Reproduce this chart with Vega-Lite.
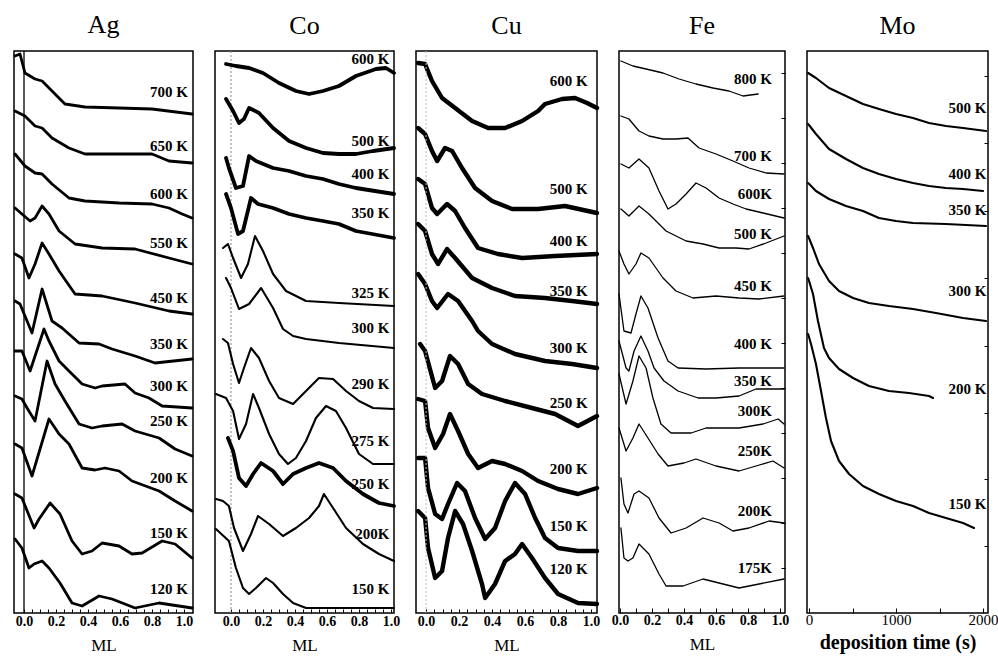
{
  "$schema": "https://vega.github.io/schema/vega-lite/v6.json",
  "background": "white",
  "padding": {"left": 12, "top": 11, "right": 5, "bottom": 5},
  "spacing": 22,
  "bounds": "flush",
  "config": {
    "view": {"stroke": "black", "strokeWidth": 1.5},
    "font": "Liberation Serif",
    "title": {"font": "Liberation Serif", "fontSize": 26, "fontWeight": "normal", "baseline": "alphabetic", "offset": 12, "color": "black"},
    "axis": {"grid": false, "domain": false, "labelFont": "Liberation Serif", "titleFont": "Liberation Serif", "tickColor": "black", "labelColor": "black", "titleColor": "black", "labelOverlap": false, "labelFlush": false, "tickCount": 60},
    "text": {"font": "Liberation Serif", "fontWeight": "bold", "fontSize": 15, "align": "right", "baseline": "middle", "color": "black"},
    "line": {"color": "black", "strokeJoin": "round", "strokeCap": "round"}
  },
  "hconcat": [
    {
      "title": "Ag",
      "width": 179, "height": 562,
      "data": {"values": [
        {"T":"700 K","x":-0.056,"y":557},{"T":"700 K","x":-0.025,"y":559},{"T":"700 K","x":0.006,"y":540},{"T":"700 K","x":0.069,"y":534},{"T":"700 K","x":0.113,"y":532},{"T":"700 K","x":0.175,"y":522},{"T":"700 K","x":0.256,"y":509},{"T":"700 K","x":0.381,"y":506},{"T":"700 K","x":0.594,"y":505},{"T":"700 K","x":0.8,"y":504},{"T":"700 K","x":1.05,"y":499},
        {"T":"650 K","x":-0.056,"y":502},{"T":"650 K","x":0.006,"y":497},{"T":"650 K","x":0.069,"y":487},{"T":"650 K","x":0.113,"y":485},{"T":"650 K","x":0.175,"y":475},{"T":"650 K","x":0.281,"y":465},{"T":"650 K","x":0.381,"y":459},{"T":"650 K","x":0.594,"y":459},{"T":"650 K","x":0.8,"y":459},{"T":"650 K","x":0.906,"y":452},{"T":"650 K","x":1.05,"y":450},
        {"T":"600 K","x":-0.056,"y":459},{"T":"600 K","x":0.006,"y":447},{"T":"600 K","x":0.069,"y":440},{"T":"600 K","x":0.113,"y":439},{"T":"600 K","x":0.175,"y":429},{"T":"600 K","x":0.281,"y":415},{"T":"600 K","x":0.381,"y":412},{"T":"600 K","x":0.594,"y":410},{"T":"600 K","x":0.8,"y":409},{"T":"600 K","x":0.906,"y":405},{"T":"600 K","x":0.988,"y":399},{"T":"600 K","x":1.05,"y":395},
        {"T":"550 K","x":-0.056,"y":405},{"T":"550 K","x":-0.013,"y":399},{"T":"550 K","x":0.038,"y":392},{"T":"550 K","x":0.069,"y":395},{"T":"550 K","x":0.113,"y":407},{"T":"550 K","x":0.156,"y":399},{"T":"550 K","x":0.219,"y":382},{"T":"550 K","x":0.319,"y":369},{"T":"550 K","x":0.488,"y":365},{"T":"550 K","x":0.694,"y":364},{"T":"550 K","x":0.906,"y":355},{"T":"550 K","x":1.05,"y":349},
        {"T":"450 K","x":-0.056,"y":359},{"T":"450 K","x":-0.013,"y":355},{"T":"450 K","x":0.031,"y":335},{"T":"450 K","x":0.069,"y":349},{"T":"450 K","x":0.113,"y":370},{"T":"450 K","x":0.156,"y":359},{"T":"450 K","x":0.219,"y":342},{"T":"450 K","x":0.319,"y":319},{"T":"450 K","x":0.488,"y":317},{"T":"450 K","x":0.694,"y":310},{"T":"450 K","x":0.906,"y":302},{"T":"450 K","x":1.05,"y":299},
        {"T":"350 K","x":-0.056,"y":312},{"T":"350 K","x":-0.025,"y":309},{"T":"350 K","x":0.05,"y":280},{"T":"350 K","x":0.113,"y":324},{"T":"350 K","x":0.175,"y":292},{"T":"350 K","x":0.238,"y":285},{"T":"350 K","x":0.344,"y":270},{"T":"350 K","x":0.469,"y":269},{"T":"350 K","x":0.55,"y":264},{"T":"350 K","x":0.694,"y":257},{"T":"350 K","x":0.819,"y":250},{"T":"350 K","x":1.05,"y":254},
        {"T":"300 K","x":-0.056,"y":262},{"T":"300 K","x":-0.013,"y":262},{"T":"300 K","x":0.038,"y":242},{"T":"300 K","x":0.125,"y":284},{"T":"300 K","x":0.156,"y":272},{"T":"300 K","x":0.219,"y":252},{"T":"300 K","x":0.281,"y":242},{"T":"300 K","x":0.363,"y":229},{"T":"300 K","x":0.444,"y":225},{"T":"300 K","x":0.488,"y":227},{"T":"300 K","x":0.631,"y":229},{"T":"300 K","x":0.694,"y":220},{"T":"300 K","x":0.781,"y":215},{"T":"300 K","x":0.863,"y":207},{"T":"300 K","x":1.05,"y":205},
        {"T":"250 K","x":-0.056,"y":217},{"T":"250 K","x":-0.013,"y":214},{"T":"250 K","x":0.019,"y":205},{"T":"250 K","x":0.069,"y":192},{"T":"250 K","x":0.144,"y":252},{"T":"250 K","x":0.194,"y":229},{"T":"250 K","x":0.256,"y":212},{"T":"250 K","x":0.344,"y":189},{"T":"250 K","x":0.425,"y":185},{"T":"250 K","x":0.488,"y":187},{"T":"250 K","x":0.613,"y":189},{"T":"250 K","x":0.694,"y":182},{"T":"250 K","x":0.844,"y":175},{"T":"250 K","x":0.944,"y":164},{"T":"250 K","x":1.05,"y":157},
        {"T":"200 K","x":-0.056,"y":169},{"T":"200 K","x":-0.013,"y":165},{"T":"200 K","x":0.05,"y":137},{"T":"200 K","x":0.156,"y":194},{"T":"200 K","x":0.219,"y":179},{"T":"200 K","x":0.281,"y":169},{"T":"200 K","x":0.363,"y":145},{"T":"200 K","x":0.444,"y":143},{"T":"200 K","x":0.506,"y":145},{"T":"200 K","x":0.594,"y":142},{"T":"200 K","x":0.675,"y":132},{"T":"200 K","x":0.844,"y":122},{"T":"200 K","x":0.944,"y":112},{"T":"200 K","x":1.05,"y":102},
        {"T":"150 K","x":-0.056,"y":119},{"T":"150 K","x":-0.013,"y":115},{"T":"150 K","x":0.063,"y":85},{"T":"150 K","x":0.094,"y":94},{"T":"150 K","x":0.163,"y":110},{"T":"150 K","x":0.225,"y":99},{"T":"150 K","x":0.3,"y":72},{"T":"150 K","x":0.363,"y":59},{"T":"150 K","x":0.425,"y":62},{"T":"150 K","x":0.488,"y":70},{"T":"150 K","x":0.594,"y":67},{"T":"150 K","x":0.675,"y":59},{"T":"150 K","x":0.738,"y":60},{"T":"150 K","x":0.863,"y":72},{"T":"150 K","x":0.944,"y":69},{"T":"150 K","x":1.05,"y":55},
        {"T":"120 K","x":-0.056,"y":74},{"T":"120 K","x":-0.013,"y":65},{"T":"120 K","x":0.031,"y":45},{"T":"120 K","x":0.063,"y":49},{"T":"120 K","x":0.113,"y":52},{"T":"120 K","x":0.156,"y":45},{"T":"120 K","x":0.225,"y":30},{"T":"120 K","x":0.3,"y":10},{"T":"120 K","x":0.363,"y":7},{"T":"120 K","x":0.469,"y":17},{"T":"120 K","x":0.55,"y":14},{"T":"120 K","x":0.694,"y":5},{"T":"120 K","x":0.844,"y":10},{"T":"120 K","x":1.05,"y":5}
      ]},
      "layer": [
        {
          "mark": {"type": "line", "strokeWidth": 2.8},
          "encoding": {
            "x": {"field": "x", "type": "quantitative", "scale": {"domain": [-0.0625, 1.056], "nice": false, "zero": false},
                  "axis": {"values": [0,0.05,0.1,0.15,0.2,0.25,0.3,0.35,0.4,0.45,0.5,0.55,0.6,0.65,0.7,0.75,0.8,0.85,0.9,0.95,1.0], "tickCount": 60, "labelExpr": "round(datum.value*20)%4==0 ? format(datum.value,'.1f') : ''", "labelOverlap": false, "tickSize": -4, "labelFontWeight": "bold", "labelFontSize": 14, "labelPadding": 5, "title": "ML", "titleFontSize": 17, "titleFontWeight": "normal", "titlePadding": 9}},
            "y": {"field": "y", "type": "quantitative", "scale": {"domain": [0, 562], "nice": false, "zero": false}, "axis": null},
            "detail": {"field": "T"}
          }
        },
        {
          "data": {"values": [{"x": 0}]},
          "mark": {"type": "rule", "color": "black", "strokeWidth": 1.3},
          "encoding": {"x": {"field": "x", "type": "quantitative"}}
        },
        {
          "data": {"values": [
            {"T":"700 K","x":1.025,"y":521},{"T":"650 K","x":1.025,"y":467},{"T":"600 K","x":1.025,"y":419},{"T":"550 K","x":1.025,"y":370},{"T":"450 K","x":1.025,"y":315},{"T":"350 K","x":1.025,"y":269},{"T":"300 K","x":1.025,"y":227},{"T":"250 K","x":1.025,"y":192},{"T":"200 K","x":1.025,"y":135},{"T":"150 K","x":1.025,"y":80},{"T":"120 K","x":1.025,"y":24}
          ]},
          "mark": {"type": "text"},
          "encoding": {"x": {"field": "x", "type": "quantitative"}, "y": {"field": "y", "type": "quantitative"}, "text": {"field": "T"}}
        }
      ]
    },
    {
      "title": "Co",
      "width": 179, "height": 562,
      "data": {"values": [
        {"T":"600 K","x":-0.031,"y":549},{"T":"600 K","x":0.031,"y":547},{"T":"600 K","x":0.113,"y":545},{"T":"600 K","x":0.2,"y":540},{"T":"600 K","x":0.3,"y":530},{"T":"600 K","x":0.406,"y":522},{"T":"600 K","x":0.488,"y":519},{"T":"600 K","x":0.575,"y":522},{"T":"600 K","x":0.675,"y":527},{"T":"600 K","x":0.781,"y":537},{"T":"600 K","x":0.906,"y":544},{"T":"600 K","x":0.969,"y":545},{"T":"600 K","x":1.019,"y":540},
        {"T":"500 K","x":-0.031,"y":514},{"T":"500 K","x":0.013,"y":502},{"T":"500 K","x":0.05,"y":490},{"T":"500 K","x":0.081,"y":494},{"T":"500 K","x":0.113,"y":505},{"T":"500 K","x":0.175,"y":500},{"T":"500 K","x":0.263,"y":485},{"T":"500 K","x":0.363,"y":472},{"T":"500 K","x":0.469,"y":465},{"T":"500 K","x":0.575,"y":460},{"T":"500 K","x":0.675,"y":459},{"T":"500 K","x":0.781,"y":459},{"T":"500 K","x":0.888,"y":462},{"T":"500 K","x":1.019,"y":465},
        {"T":"400 K","x":-0.031,"y":455},{"T":"400 K","x":-0.013,"y":445},{"T":"400 K","x":0.031,"y":425},{"T":"400 K","x":0.075,"y":427},{"T":"400 K","x":0.113,"y":457},{"T":"400 K","x":0.156,"y":452},{"T":"400 K","x":0.263,"y":445},{"T":"400 K","x":0.363,"y":442},{"T":"400 K","x":0.469,"y":437},{"T":"400 K","x":0.575,"y":434},{"T":"400 K","x":0.675,"y":429},{"T":"400 K","x":0.781,"y":425},{"T":"400 K","x":1.019,"y":419},
        {"T":"350 K","x":-0.031,"y":419},{"T":"350 K","x":0,"y":405},{"T":"350 K","x":0.044,"y":379},{"T":"350 K","x":0.075,"y":382},{"T":"350 K","x":0.125,"y":415},{"T":"350 K","x":0.169,"y":409},{"T":"350 K","x":0.263,"y":405},{"T":"350 K","x":0.363,"y":399},{"T":"350 K","x":0.469,"y":395},{"T":"350 K","x":0.575,"y":392},{"T":"350 K","x":0.675,"y":389},{"T":"350 K","x":0.781,"y":382},{"T":"350 K","x":1.019,"y":375},
        {"T":"325 K","x":-0.05,"y":365},{"T":"325 K","x":-0.019,"y":369},{"T":"325 K","x":0.013,"y":355},{"T":"325 K","x":0.063,"y":335},{"T":"325 K","x":0.106,"y":349},{"T":"325 K","x":0.15,"y":377},{"T":"325 K","x":0.2,"y":362},{"T":"325 K","x":0.263,"y":339},{"T":"325 K","x":0.344,"y":322},{"T":"325 K","x":0.469,"y":312},{"T":"325 K","x":0.675,"y":310},{"T":"325 K","x":1.019,"y":307},
        {"T":"300 K","x":-0.031,"y":335},{"T":"300 K","x":0,"y":325},{"T":"300 K","x":0.05,"y":304},{"T":"300 K","x":0.113,"y":309},{"T":"300 K","x":0.188,"y":325},{"T":"300 K","x":0.263,"y":305},{"T":"300 K","x":0.325,"y":284},{"T":"300 K","x":0.388,"y":277},{"T":"300 K","x":0.469,"y":274},{"T":"300 K","x":0.675,"y":270},{"T":"300 K","x":1.019,"y":265},
        {"T":"290 K","x":-0.05,"y":274},{"T":"290 K","x":-0.019,"y":270},{"T":"290 K","x":0.013,"y":249},{"T":"290 K","x":0.05,"y":230},{"T":"290 K","x":0.081,"y":245},{"T":"290 K","x":0.125,"y":265},{"T":"290 K","x":0.175,"y":255},{"T":"290 K","x":0.238,"y":232},{"T":"290 K","x":0.3,"y":215},{"T":"290 K","x":0.388,"y":209},{"T":"290 K","x":0.469,"y":222},{"T":"290 K","x":0.55,"y":235},{"T":"290 K","x":0.638,"y":234},{"T":"290 K","x":0.719,"y":222},{"T":"290 K","x":0.8,"y":212},{"T":"290 K","x":0.888,"y":205},{"T":"290 K","x":1.019,"y":204},
        {"T":"275 K","x":-0.094,"y":219},{"T":"275 K","x":-0.031,"y":215},{"T":"275 K","x":0.013,"y":202},{"T":"275 K","x":0.05,"y":174},{"T":"275 K","x":0.094,"y":189},{"T":"275 K","x":0.138,"y":219},{"T":"275 K","x":0.175,"y":205},{"T":"275 K","x":0.238,"y":179},{"T":"275 K","x":0.3,"y":159},{"T":"275 K","x":0.356,"y":149},{"T":"275 K","x":0.406,"y":155},{"T":"275 K","x":0.469,"y":172},{"T":"275 K","x":0.531,"y":195},{"T":"275 K","x":0.594,"y":207},{"T":"275 K","x":0.656,"y":202},{"T":"275 K","x":0.719,"y":185},{"T":"275 K","x":0.8,"y":159},{"T":"275 K","x":0.888,"y":149},{"T":"275 K","x":1.019,"y":149},
        {"T":"250 K","x":-0.019,"y":175},{"T":"250 K","x":0.013,"y":162},{"T":"250 K","x":0.05,"y":135},{"T":"250 K","x":0.094,"y":127},{"T":"250 K","x":0.138,"y":139},{"T":"250 K","x":0.188,"y":150},{"T":"250 K","x":0.263,"y":142},{"T":"250 K","x":0.325,"y":129},{"T":"250 K","x":0.388,"y":139},{"T":"250 K","x":0.469,"y":145},{"T":"250 K","x":0.55,"y":150},{"T":"250 K","x":0.638,"y":145},{"T":"250 K","x":0.719,"y":132},{"T":"250 K","x":0.825,"y":119},{"T":"250 K","x":0.925,"y":110},{"T":"250 K","x":1.019,"y":107},
        {"T":"200K","x":-0.094,"y":114},{"T":"200K","x":-0.05,"y":112},{"T":"200K","x":-0.013,"y":107},{"T":"200K","x":0.019,"y":85},{"T":"200K","x":0.075,"y":62},{"T":"200K","x":0.125,"y":79},{"T":"200K","x":0.169,"y":97},{"T":"200K","x":0.238,"y":89},{"T":"200K","x":0.325,"y":77},{"T":"200K","x":0.406,"y":85},{"T":"200K","x":0.488,"y":95},{"T":"200K","x":0.55,"y":107},{"T":"200K","x":0.581,"y":119},{"T":"200K","x":0.638,"y":105},{"T":"200K","x":0.719,"y":85},{"T":"200K","x":0.825,"y":69},{"T":"200K","x":0.925,"y":59},{"T":"200K","x":1.019,"y":52},
        {"T":"150 K","x":-0.094,"y":84},{"T":"150 K","x":-0.013,"y":72},{"T":"150 K","x":0.031,"y":45},{"T":"150 K","x":0.075,"y":25},{"T":"150 K","x":0.113,"y":19},{"T":"150 K","x":0.156,"y":25},{"T":"150 K","x":0.219,"y":35},{"T":"150 K","x":0.263,"y":30},{"T":"150 K","x":0.325,"y":19},{"T":"150 K","x":0.388,"y":10},{"T":"150 K","x":0.469,"y":5},{"T":"150 K","x":0.675,"y":5},{"T":"150 K","x":1.019,"y":5}
      ]},
      "layer": [
        {
          "data": {"values": [{"x": 0}]},
          "mark": {"type": "rule", "color": "#888888", "strokeWidth": 1, "strokeDash": [2, 2]},
          "encoding": {
            "x": {"field": "x", "type": "quantitative", "scale": {"domain": [-0.1, 1.019], "nice": false, "zero": false},
                  "axis": {"values": [0,0.05,0.1,0.15,0.2,0.25,0.3,0.35,0.4,0.45,0.5,0.55,0.6,0.65,0.7,0.75,0.8,0.85,0.9,0.95,1.0], "tickCount": 60, "labelExpr": "round(datum.value*20)%4==0 ? format(datum.value,'.1f') : ''", "labelOverlap": false, "tickSize": -4, "labelFontWeight": "bold", "labelFontSize": 14, "labelPadding": 5, "title": "ML", "titleFontSize": 17, "titleFontWeight": "normal", "titlePadding": 9}}
          }
        },
        {
          "transform": [{"filter": {"field": "T", "oneOf": ["600 K", "500 K", "400 K", "350 K", "250 K"]}}],
          "mark": {"type": "line", "strokeWidth": 3.8},
          "encoding": {
            "x": {"field": "x", "type": "quantitative"},
            "y": {"field": "y", "type": "quantitative", "scale": {"domain": [0, 562], "nice": false, "zero": false}, "axis": null},
            "detail": {"field": "T"}
          }
        },
        {
          "transform": [{"filter": {"not": {"field": "T", "oneOf": ["600 K", "500 K", "400 K", "350 K", "250 K"]}}}],
          "mark": {"type": "line", "strokeWidth": 2.1},
          "encoding": {
            "x": {"field": "x", "type": "quantitative"},
            "y": {"field": "y", "type": "quantitative"},
            "detail": {"field": "T"}
          }
        },
        {
          "data": {"values": [
            {"T":"600 K","x":0.99,"y":554},{"T":"500 K","x":0.99,"y":472},{"T":"400 K","x":0.99,"y":439},{"T":"350 K","x":0.99,"y":400},{"T":"325 K","x":0.99,"y":320},{"T":"300 K","x":0.99,"y":285},{"T":"290 K","x":0.99,"y":229},{"T":"275 K","x":0.99,"y":172},{"T":"250 K","x":0.99,"y":129},{"T":"200K","x":0.99,"y":79},{"T":"150 K","x":0.99,"y":24}
          ]},
          "mark": {"type": "text"},
          "encoding": {"x": {"field": "x", "type": "quantitative"}, "y": {"field": "y", "type": "quantitative"}, "text": {"field": "T"}}
        }
      ]
    },
    {
      "title": "Cu",
      "width": 181, "height": 562,
      "data": {"values": [
        {"T":"600 K","x":-0.048,"y":550},{"T":"600 K","x":-0.006,"y":549},{"T":"600 K","x":0.036,"y":532},{"T":"600 K","x":0.097,"y":515},{"T":"600 K","x":0.176,"y":505},{"T":"600 K","x":0.279,"y":492},{"T":"600 K","x":0.376,"y":485},{"T":"600 K","x":0.479,"y":485},{"T":"600 K","x":0.582,"y":492},{"T":"600 K","x":0.679,"y":502},{"T":"600 K","x":0.721,"y":509},{"T":"600 K","x":0.824,"y":514},{"T":"600 K","x":0.903,"y":515},{"T":"600 K","x":0.976,"y":510},{"T":"600 K","x":1.036,"y":505},
        {"T":"500 K","x":-0.048,"y":485},{"T":"500 K","x":-0.006,"y":479},{"T":"500 K","x":0.036,"y":462},{"T":"500 K","x":0.067,"y":452},{"T":"500 K","x":0.115,"y":465},{"T":"500 K","x":0.158,"y":462},{"T":"500 K","x":0.218,"y":445},{"T":"500 K","x":0.297,"y":425},{"T":"500 K","x":0.4,"y":412},{"T":"500 K","x":0.521,"y":404},{"T":"500 K","x":0.679,"y":404},{"T":"500 K","x":0.842,"y":407},{"T":"500 K","x":1.036,"y":400},
        {"T":"400 K","x":-0.048,"y":434},{"T":"400 K","x":-0.006,"y":429},{"T":"400 K","x":0.036,"y":405},{"T":"400 K","x":0.067,"y":399},{"T":"400 K","x":0.127,"y":409},{"T":"400 K","x":0.176,"y":402},{"T":"400 K","x":0.236,"y":385},{"T":"400 K","x":0.315,"y":365},{"T":"400 K","x":0.436,"y":359},{"T":"400 K","x":0.582,"y":355},{"T":"400 K","x":0.782,"y":357},{"T":"400 K","x":1.036,"y":359},
        {"T":"350 K","x":-0.048,"y":389},{"T":"350 K","x":-0.006,"y":382},{"T":"350 K","x":0.036,"y":359},{"T":"350 K","x":0.073,"y":349},{"T":"350 K","x":0.127,"y":364},{"T":"350 K","x":0.176,"y":355},{"T":"350 K","x":0.279,"y":335},{"T":"350 K","x":0.4,"y":325},{"T":"350 K","x":0.539,"y":317},{"T":"350 K","x":0.721,"y":315},{"T":"350 K","x":0.885,"y":312},{"T":"350 K","x":1.036,"y":309},
        {"T":"300 K","x":-0.048,"y":339},{"T":"300 K","x":-0.006,"y":329},{"T":"300 K","x":0.036,"y":312},{"T":"300 K","x":0.067,"y":305},{"T":"300 K","x":0.133,"y":319},{"T":"300 K","x":0.194,"y":312},{"T":"300 K","x":0.279,"y":292},{"T":"300 K","x":0.315,"y":282},{"T":"300 K","x":0.4,"y":269},{"T":"300 K","x":0.539,"y":259},{"T":"300 K","x":0.721,"y":252},{"T":"300 K","x":0.885,"y":249},{"T":"300 K","x":1.036,"y":245},
        {"T":"250 K","x":-0.036,"y":269},{"T":"250 K","x":-0.006,"y":262},{"T":"250 K","x":0.055,"y":225},{"T":"250 K","x":0.097,"y":232},{"T":"250 K","x":0.145,"y":257},{"T":"250 K","x":0.194,"y":249},{"T":"250 K","x":0.255,"y":229},{"T":"250 K","x":0.339,"y":219},{"T":"250 K","x":0.479,"y":212},{"T":"250 K","x":0.642,"y":205},{"T":"250 K","x":0.782,"y":199},{"T":"250 K","x":0.921,"y":187},{"T":"250 K","x":1.036,"y":197},
        {"T":"200 K","x":-0.048,"y":214},{"T":"200 K","x":-0.006,"y":212},{"T":"200 K","x":0.012,"y":185},{"T":"200 K","x":0.055,"y":165},{"T":"200 K","x":0.103,"y":179},{"T":"200 K","x":0.145,"y":199},{"T":"200 K","x":0.194,"y":182},{"T":"200 K","x":0.255,"y":159},{"T":"200 K","x":0.315,"y":145},{"T":"200 K","x":0.4,"y":152},{"T":"200 K","x":0.479,"y":149},{"T":"200 K","x":0.582,"y":142},{"T":"200 K","x":0.679,"y":132},{"T":"200 K","x":0.8,"y":124},{"T":"200 K","x":0.921,"y":119},{"T":"200 K","x":1.036,"y":125},
        {"T":"150 K","x":-0.048,"y":155},{"T":"150 K","x":-0.006,"y":155},{"T":"150 K","x":0.012,"y":125},{"T":"150 K","x":0.055,"y":99},{"T":"150 K","x":0.097,"y":94},{"T":"150 K","x":0.133,"y":109},{"T":"150 K","x":0.188,"y":130},{"T":"150 K","x":0.236,"y":122},{"T":"150 K","x":0.297,"y":95},{"T":"150 K","x":0.358,"y":74},{"T":"150 K","x":0.418,"y":85},{"T":"150 K","x":0.479,"y":112},{"T":"150 K","x":0.539,"y":130},{"T":"150 K","x":0.6,"y":119},{"T":"150 K","x":0.661,"y":95},{"T":"150 K","x":0.721,"y":75},{"T":"150 K","x":0.8,"y":65},{"T":"150 K","x":0.921,"y":62},{"T":"150 K","x":1.036,"y":62},
        {"T":"120 K","x":-0.048,"y":102},{"T":"120 K","x":-0.006,"y":95},{"T":"120 K","x":0.012,"y":65},{"T":"120 K","x":0.055,"y":35},{"T":"120 K","x":0.097,"y":42},{"T":"120 K","x":0.133,"y":75},{"T":"120 K","x":0.176,"y":102},{"T":"120 K","x":0.224,"y":89},{"T":"120 K","x":0.279,"y":62},{"T":"120 K","x":0.339,"y":29},{"T":"120 K","x":0.358,"y":15},{"T":"120 K","x":0.418,"y":29},{"T":"120 K","x":0.479,"y":52},{"T":"120 K","x":0.539,"y":59},{"T":"120 K","x":0.582,"y":69},{"T":"120 K","x":0.642,"y":55},{"T":"120 K","x":0.721,"y":35},{"T":"120 K","x":0.8,"y":19},{"T":"120 K","x":0.921,"y":10},{"T":"120 K","x":1.036,"y":9}
      ]},
      "layer": [
        {
          "mark": {"type": "line", "strokeWidth": 4.4},
          "encoding": {
            "x": {"field": "x", "type": "quantitative", "scale": {"domain": [-0.061, 1.036], "nice": false, "zero": false},
                  "axis": {"values": [0,0.05,0.1,0.15,0.2,0.25,0.3,0.35,0.4,0.45,0.5,0.55,0.6,0.65,0.7,0.75,0.8,0.85,0.9,0.95,1.0], "tickCount": 60, "labelExpr": "round(datum.value*20)%4==0 ? format(datum.value,'.1f') : ''", "labelOverlap": false, "tickSize": -4, "labelFontWeight": "bold", "labelFontSize": 14, "labelPadding": 5, "title": "ML", "titleFontSize": 17, "titleFontWeight": "normal", "titlePadding": 9}},
            "y": {"field": "y", "type": "quantitative", "scale": {"domain": [0, 562], "nice": false, "zero": false}, "axis": null},
            "detail": {"field": "T"}
          }
        },
        {
          "data": {"values": [{"x": 0}]},
          "mark": {"type": "rule", "color": "#bbbbbb", "strokeWidth": 1, "strokeDash": [2, 2]},
          "encoding": {"x": {"field": "x", "type": "quantitative"}}
        },
        {
          "data": {"values": [
            {"T":"600 K","x":0.98,"y":532},{"T":"500 K","x":0.98,"y":424},{"T":"400 K","x":0.98,"y":372},{"T":"350 K","x":0.98,"y":322},{"T":"300 K","x":0.98,"y":265},{"T":"250 K","x":0.98,"y":210},{"T":"200 K","x":0.98,"y":144},{"T":"150 K","x":0.98,"y":87},{"T":"120 K","x":0.98,"y":44}
          ]},
          "mark": {"type": "text"},
          "encoding": {"x": {"field": "x", "type": "quantitative"}, "y": {"field": "y", "type": "quantitative"}, "text": {"field": "T"}}
        }
      ]
    },
    {
      "title": "Fe",
      "width": 166, "height": 562,
      "data": {"values": [
        {"T":"800 K","x":0.006,"y":552},{"T":"800 K","x":0.081,"y":547},{"T":"800 K","x":0.163,"y":544},{"T":"800 K","x":0.269,"y":540},{"T":"800 K","x":0.369,"y":534},{"T":"800 K","x":0.475,"y":529},{"T":"800 K","x":0.581,"y":525},{"T":"800 K","x":0.681,"y":522},{"T":"800 K","x":0.769,"y":517},{"T":"800 K","x":0.863,"y":519},
        {"T":"700 K","x":0.006,"y":497},{"T":"700 K","x":0.056,"y":494},{"T":"700 K","x":0.119,"y":482},{"T":"700 K","x":0.181,"y":477},{"T":"700 K","x":0.269,"y":474},{"T":"700 K","x":0.35,"y":474},{"T":"700 K","x":0.425,"y":475},{"T":"700 K","x":0.494,"y":465},{"T":"700 K","x":0.6,"y":459},{"T":"700 K","x":0.706,"y":452},{"T":"700 K","x":0.806,"y":445},{"T":"700 K","x":0.913,"y":440},{"T":"700 K","x":1.025,"y":439},
        {"T":"600K","x":0.006,"y":449},{"T":"600K","x":0.056,"y":445},{"T":"600K","x":0.119,"y":454},{"T":"600K","x":0.181,"y":445},{"T":"600K","x":0.244,"y":422},{"T":"600K","x":0.3,"y":404},{"T":"600K","x":0.35,"y":409},{"T":"600K","x":0.413,"y":419},{"T":"600K","x":0.475,"y":430},{"T":"600K","x":0.538,"y":425},{"T":"600K","x":0.619,"y":415},{"T":"600K","x":0.706,"y":409},{"T":"600K","x":0.788,"y":404},{"T":"600K","x":0.894,"y":400},{"T":"600K","x":1.025,"y":395},
        {"T":"500 K","x":0.006,"y":404},{"T":"500 K","x":0.056,"y":397},{"T":"500 K","x":0.119,"y":407},{"T":"500 K","x":0.181,"y":399},{"T":"500 K","x":0.288,"y":382},{"T":"500 K","x":0.413,"y":372},{"T":"500 K","x":0.519,"y":369},{"T":"500 K","x":0.619,"y":365},{"T":"500 K","x":0.725,"y":365},{"T":"500 K","x":0.806,"y":364},{"T":"500 K","x":0.913,"y":370},{"T":"500 K","x":1.025,"y":377},
        {"T":"450 K","x":-0.006,"y":362},{"T":"450 K","x":0.025,"y":349},{"T":"450 K","x":0.056,"y":339},{"T":"450 K","x":0.1,"y":349},{"T":"450 K","x":0.131,"y":360},{"T":"450 K","x":0.181,"y":355},{"T":"450 K","x":0.269,"y":335},{"T":"450 K","x":0.35,"y":322},{"T":"450 K","x":0.456,"y":315},{"T":"450 K","x":0.6,"y":317},{"T":"450 K","x":0.744,"y":315},{"T":"450 K","x":0.869,"y":314},{"T":"450 K","x":1.025,"y":317},
        {"T":"400 K","x":-0.006,"y":319},{"T":"400 K","x":0.025,"y":282},{"T":"400 K","x":0.069,"y":280},{"T":"400 K","x":0.1,"y":299},{"T":"400 K","x":0.131,"y":317},{"T":"400 K","x":0.175,"y":305},{"T":"400 K","x":0.238,"y":275},{"T":"400 K","x":0.3,"y":252},{"T":"400 K","x":0.363,"y":245},{"T":"400 K","x":0.538,"y":244},{"T":"400 K","x":0.744,"y":245},{"T":"400 K","x":1.025,"y":245},
        {"T":"350 K","x":-0.006,"y":272},{"T":"350 K","x":0.038,"y":245},{"T":"350 K","x":0.056,"y":242},{"T":"350 K","x":0.088,"y":262},{"T":"350 K","x":0.131,"y":277},{"T":"350 K","x":0.175,"y":262},{"T":"350 K","x":0.213,"y":245},{"T":"350 K","x":0.275,"y":232},{"T":"350 K","x":0.363,"y":222},{"T":"350 K","x":0.488,"y":215},{"T":"350 K","x":0.6,"y":215},{"T":"350 K","x":0.744,"y":217},{"T":"350 K","x":0.85,"y":224},{"T":"350 K","x":1.025,"y":224},
        {"T":"300K","x":-0.006,"y":239},{"T":"300K","x":0.038,"y":209},{"T":"300K","x":0.081,"y":232},{"T":"300K","x":0.119,"y":257},{"T":"300K","x":0.163,"y":245},{"T":"300K","x":0.206,"y":215},{"T":"300K","x":0.256,"y":189},{"T":"300K","x":0.319,"y":180},{"T":"300K","x":0.444,"y":180},{"T":"300K","x":0.538,"y":185},{"T":"300K","x":0.744,"y":185},{"T":"300K","x":0.894,"y":189},{"T":"300K","x":0.988,"y":194},{"T":"300K","x":1.025,"y":189},
        {"T":"250K","x":-0.006,"y":185},{"T":"250K","x":0.038,"y":162},{"T":"250K","x":0.081,"y":175},{"T":"250K","x":0.119,"y":189},{"T":"250K","x":0.175,"y":175},{"T":"250K","x":0.238,"y":159},{"T":"250K","x":0.3,"y":147},{"T":"250K","x":0.4,"y":150},{"T":"250K","x":0.475,"y":154},{"T":"250K","x":0.6,"y":147},{"T":"250K","x":0.744,"y":142},{"T":"250K","x":0.85,"y":147},{"T":"250K","x":0.956,"y":152},{"T":"250K","x":1.025,"y":145},
        {"T":"200K","x":0.006,"y":135},{"T":"200K","x":0.025,"y":109},{"T":"200K","x":0.05,"y":100},{"T":"200K","x":0.088,"y":119},{"T":"200K","x":0.119,"y":122},{"T":"200K","x":0.181,"y":115},{"T":"200K","x":0.244,"y":95},{"T":"200K","x":0.319,"y":80},{"T":"200K","x":0.413,"y":85},{"T":"200K","x":0.519,"y":95},{"T":"200K","x":0.619,"y":90},{"T":"200K","x":0.706,"y":82},{"T":"200K","x":0.806,"y":85},{"T":"200K","x":0.931,"y":92},{"T":"200K","x":1.025,"y":90},
        {"T":"175K","x":0.006,"y":85},{"T":"175K","x":0.025,"y":55},{"T":"175K","x":0.05,"y":52},{"T":"175K","x":0.081,"y":55},{"T":"175K","x":0.119,"y":69},{"T":"175K","x":0.181,"y":59},{"T":"175K","x":0.244,"y":39},{"T":"175K","x":0.288,"y":27},{"T":"175K","x":0.394,"y":27},{"T":"175K","x":0.519,"y":34},{"T":"175K","x":0.619,"y":30},{"T":"175K","x":0.744,"y":25},{"T":"175K","x":0.869,"y":29},{"T":"175K","x":1.025,"y":34}
      ]},
      "layer": [
        {
          "mark": {"type": "line", "strokeWidth": 1.3},
          "encoding": {
            "x": {"field": "x", "type": "quantitative", "scale": {"domain": [-0.006, 1.031], "nice": false, "zero": false},
                  "axis": {"values": [0,0.1,0.2,0.3,0.4,0.5,0.6,0.7,0.8,0.9,1.0], "tickCount": 60, "labelExpr": "round(datum.value*10)%2==0 ? format(datum.value,'.1f') : ''", "labelOverlap": false, "tickSize": -5, "labelFontWeight": "bold", "labelFontSize": 14, "labelPadding": 5, "title": "ML", "titleFontSize": 17, "titleFontWeight": "normal", "titlePadding": 9}},
            "y": {"field": "y", "type": "quantitative", "scale": {"domain": [0, 562], "nice": false, "zero": false},
                  "axis": {"orient": "right", "labels": false, "title": null, "tickSize": -4, "tickCount": 60, "values": [45,90,135,180,225,270,315,360,405,450,495,540]}},
            "detail": {"field": "T"}
          }
        },
        {
          "data": {"values": [
            {"T":"800 K","x":0.95,"y":534},{"T":"700 K","x":0.95,"y":457},{"T":"600K","x":0.95,"y":419},{"T":"500 K","x":0.95,"y":379},{"T":"450 K","x":0.95,"y":327},{"T":"400 K","x":0.95,"y":269},{"T":"350 K","x":0.95,"y":232},{"T":"300K","x":0.95,"y":202},{"T":"250K","x":0.95,"y":162},{"T":"200K","x":0.95,"y":102},{"T":"175K","x":0.95,"y":45}
          ]},
          "mark": {"type": "text"},
          "encoding": {"x": {"field": "x", "type": "quantitative"}, "y": {"field": "y", "type": "quantitative"}, "text": {"field": "T"}}
        }
      ]
    },
    {
      "title": "Mo",
      "width": 181, "height": 562,
      "data": {"values": [
        {"T":"500 K","x":-10,"y":540},{"T":"500 K","x":80,"y":535},{"T":"500 K","x":230,"y":525},{"T":"500 K","x":425,"y":517},{"T":"500 K","x":620,"y":509},{"T":"500 K","x":804,"y":504},{"T":"500 K","x":1000,"y":499},{"T":"500 K","x":1195,"y":495},{"T":"500 K","x":1379,"y":490},{"T":"500 K","x":1574,"y":487},{"T":"500 K","x":1770,"y":485},{"T":"500 K","x":2034,"y":482},
        {"T":"400 K","x":-10,"y":489},{"T":"400 K","x":80,"y":479},{"T":"400 K","x":230,"y":464},{"T":"400 K","x":425,"y":454},{"T":"400 K","x":620,"y":445},{"T":"400 K","x":804,"y":439},{"T":"400 K","x":1000,"y":434},{"T":"400 K","x":1195,"y":430},{"T":"400 K","x":1379,"y":427},{"T":"400 K","x":1574,"y":425},{"T":"400 K","x":1770,"y":424},{"T":"400 K","x":2000,"y":422},
        {"T":"350 K","x":-10,"y":430},{"T":"350 K","x":80,"y":422},{"T":"350 K","x":230,"y":414},{"T":"350 K","x":425,"y":407},{"T":"350 K","x":620,"y":402},{"T":"350 K","x":804,"y":395},{"T":"350 K","x":1000,"y":392},{"T":"350 K","x":1195,"y":390},{"T":"350 K","x":1574,"y":389},{"T":"350 K","x":2034,"y":387},
        {"T":"300 K","x":-10,"y":377},{"T":"300 K","x":46,"y":365},{"T":"300 K","x":115,"y":349},{"T":"300 K","x":230,"y":332},{"T":"300 K","x":345,"y":322},{"T":"300 K","x":506,"y":315},{"T":"300 K","x":689,"y":310},{"T":"300 K","x":919,"y":307},{"T":"300 K","x":1195,"y":304},{"T":"300 K","x":1459,"y":300},{"T":"300 K","x":1770,"y":295},{"T":"300 K","x":2034,"y":292},
        {"T":"200 K","x":-10,"y":335},{"T":"200 K","x":46,"y":319},{"T":"200 K","x":103,"y":292},{"T":"200 K","x":172,"y":265},{"T":"200 K","x":230,"y":255},{"T":"200 K","x":345,"y":244},{"T":"200 K","x":506,"y":235},{"T":"200 K","x":689,"y":227},{"T":"200 K","x":919,"y":222},{"T":"200 K","x":1149,"y":220},{"T":"200 K","x":1379,"y":217},{"T":"200 K","x":1425,"y":215},
        {"T":"150 K","x":-10,"y":279},{"T":"150 K","x":23,"y":269},{"T":"150 K","x":80,"y":249},{"T":"150 K","x":138,"y":222},{"T":"150 K","x":195,"y":195},{"T":"150 K","x":253,"y":172},{"T":"150 K","x":345,"y":152},{"T":"150 K","x":460,"y":139},{"T":"150 K","x":620,"y":127},{"T":"150 K","x":804,"y":119},{"T":"150 K","x":1000,"y":112},{"T":"150 K","x":1195,"y":107},{"T":"150 K","x":1379,"y":100},{"T":"150 K","x":1574,"y":95},{"T":"150 K","x":1770,"y":90},{"T":"150 K","x":1896,"y":85}
      ]},
      "layer": [
        {
          "mark": {"type": "line", "strokeWidth": 2.1},
          "encoding": {
            "x": {"field": "x", "type": "quantitative", "scale": {"domain": [-23, 2057], "nice": false, "zero": false},
                  "axis": {"values": [0,500,1000,1500,2000], "tickCount": 60, "labelExpr": "datum.value % 1000 == 0 ? datum.label : ''", "labelOverlap": false, "format": "d", "tickSize": -5, "labelFontWeight": "normal", "labelFontSize": 15, "labelPadding": 4, "title": "deposition time (s)", "titleFontSize": 20, "titleFontWeight": "bold", "titlePadding": 5}},
            "y": {"field": "y", "type": "quantitative", "scale": {"domain": [0, 562], "nice": false, "zero": false},
                  "axis": {"orient": "right", "labels": false, "title": null, "tickSize": -4, "tickCount": 60, "values": [67,134,200,267,335,402,470,537]}},
            "detail": {"field": "T"}
          }
        },
        {
          "data": {"values": [
            {"T":"500 K","x":2040,"y":505},{"T":"400 K","x":2040,"y":439},{"T":"350 K","x":2040,"y":403},{"T":"300 K","x":2040,"y":322},{"T":"200 K","x":2040,"y":224},{"T":"150 K","x":2040,"y":109}
          ]},
          "mark": {"type": "text"},
          "encoding": {"x": {"field": "x", "type": "quantitative"}, "y": {"field": "y", "type": "quantitative"}, "text": {"field": "T"}}
        }
      ]
    }
  ]
}
